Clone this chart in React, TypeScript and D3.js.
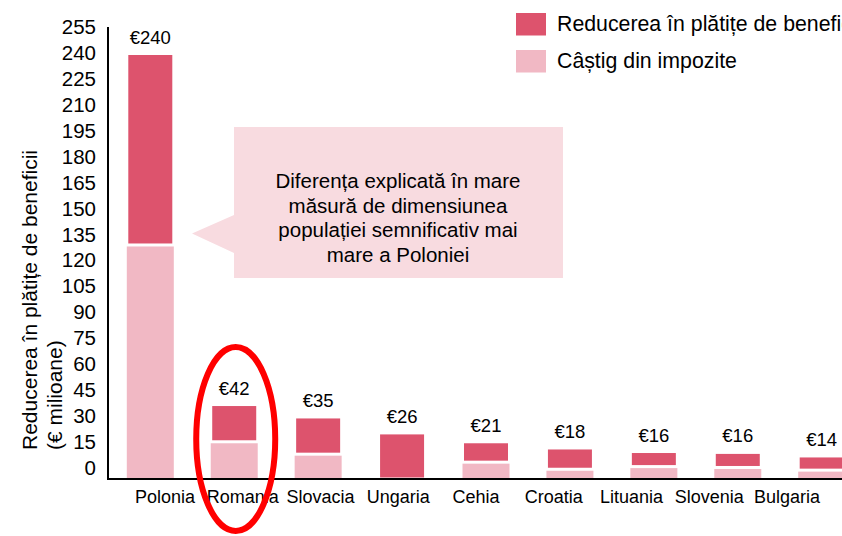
import React from "react";
import * as d3 from "d3";

const countries = ["Polonia", "Romania", "Slovacia", "Ungaria", "Cehia", "Croatia", "Lituania", "Slovenia", "Bulgaria"];
const taxGain = [132, 21, 14, 0, 9.5, 5.5, 7, 6.5, 5];
const benefitReduction = [108, 21, 21, 26, 11.5, 12, 8.5, 8.5, 8];
const totalLabels = ["€240", "€42", "€35", "€26", "€21", "€18", "€16", "€16", "€14"];
const yTicks = [0, 15, 30, 45, 60, 75, 90, 105, 120, 135, 150, 165, 180, 195, 210, 225, 240, 255];
const legendLabels = ["Reducerea în plătițe de beneficii", "Câștig din impozite"];
const yTitleLines = ["Reducerea în plătițe de beneficii", "(€ milioane)"];
const calloutLines = [
  "Diferența explicată în mare",
  "măsură de dimensiunea",
  "populației semnificativ mai",
  "mare a Poloniei",
];

const W = 842;
const H = 536;
const DARK = "#dd536d";
const LIGHT = "#f1b8c4";
const CALLOUT = "#f8dbe0";
const FONT = "'Liberation Sans', Arial, sans-serif";

export default function App() {
  const baseY = 479;
  const y = d3.scaleLinear().domain([0, 240]).range([baseY, 53.5]);
  const yLabel = d3.scaleLinear().domain([0, 255]).range([468, 27]);
  const x = d3
    .scaleBand<string>()
    .domain(countries)
    .range([108, 864])
    .paddingInner(0.44)
    .paddingOuter(0.224);
  const xLabel = d3.scalePoint<string>().domain(countries).range([165, 787]);

  const stack = d3
    .stack<any>()
    .keys(["tax", "red"])(
      countries.map((c, i) => ({ c, tax: taxGain[i], red: benefitReduction[i] }))
    );

  const romCx = (x("Romania") as number) + x.bandwidth() / 2 + 1.5;

  return (
    <svg
      width={W}
      height={H}
      style={{ position: "absolute", left: 0, top: 0, background: "#fff" }}
      fontFamily={FONT}
    >
      {/* bars */}
      {stack[0].map((d, i) => (
        <rect
          key={"t" + i}
          x={x(countries[i])}
          y={y(d[1])}
          width={x.bandwidth()}
          height={Math.max(0, y(d[0]) - y(d[1]))}
          fill={LIGHT}
        />
      ))}
      {stack[1].map((d, i) => (
        <rect
          key={"r" + i}
          x={x(countries[i])}
          y={y(d[1])}
          width={x.bandwidth()}
          height={Math.max(0, y(d[0]) - y(d[1]))}
          fill={DARK}
          stroke="#fff"
          strokeWidth={3}
        />
      ))}
      {/* value labels */}
      {stack[1].map((d, i) => (
        <text
          key={"v" + i}
          x={(x(countries[i]) as number) + x.bandwidth() / 2}
          y={y(d[1]) - 10}
          textAnchor="middle"
          fontSize={18.5}
          fill="#000"
        >
          {totalLabels[i]}
        </text>
      ))}
      {/* axes */}
      <line x1={108} x2={108} y1={27} y2={baseY + 1} stroke="#000" strokeWidth={2} />
      <line x1={107} x2={W} y1={baseY} y2={baseY} stroke="#000" strokeWidth={2} />
      {yTicks.map((t) => (
        <text key={"yt" + t} x={96} y={yLabel(t) + 7} textAnchor="end" fontSize={20.5} fill="#000">
          {t}
        </text>
      ))}
      {countries.map((c) => (
        <text key={"xl" + c} x={xLabel(c)} y={503} textAnchor="middle" fontSize={18} fill="#000">
          {c}
        </text>
      ))}
      {/* y title */}
      {yTitleLines.map((l, i) => (
        <text
          key={"yl" + i}
          transform={`translate(${37 + i * 25},450) rotate(-90)`}
          textAnchor="start"
          fontSize={21}
          fill="#000"
        >
          {l}
        </text>
      ))}
      {/* legend */}
      {legendLabels.map((l, i) => (
        <g key={"lg" + i}>
          <rect x={516} y={13 + i * 37} width={30} height={22.5} fill={i === 0 ? DARK : LIGHT} />
          <text x={557} y={31 + i * 37} fontSize={21.3} fill="#000">
            {l}
          </text>
        </g>
      ))}
      {/* callout */}
      <path
        d="M234,127 L563,127 L563,278 L234,278 L234,253 L192,233.5 L234,215 Z"
        fill={CALLOUT}
      />
      {calloutLines.map((l, i) => (
        <text key={"cl" + i} x={398} y={188 + i * 24.5} textAnchor="middle" fontSize={20.5} fill="#000">
          {l}
        </text>
      ))}
      {/* highlight ellipse */}
      <ellipse cx={romCx} cy={439} rx={39.5} ry={92} fill="none" stroke="#ff0000" strokeWidth={6} />
    </svg>
  );
}
